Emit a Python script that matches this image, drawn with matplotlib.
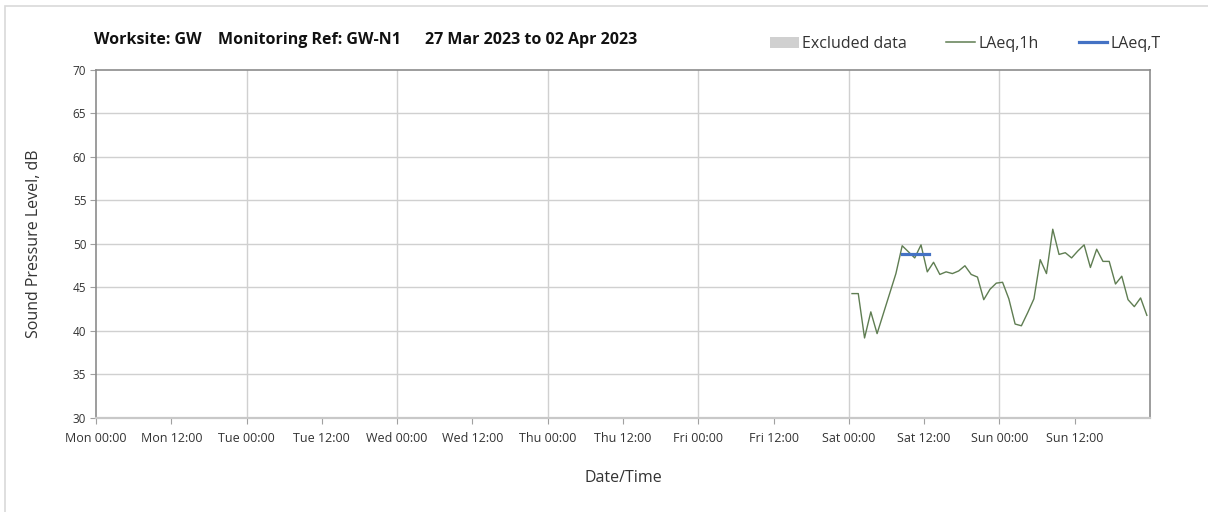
import numpy as np
import pandas as pd
import matplotlib
matplotlib.use("Agg")
import matplotlib.pyplot as plt
import matplotlib.dates as mdates
from matplotlib.patches import Patch, Rectangle
from matplotlib.lines import Line2D

plt.rcParams['font.family'] = ['Open Sans', 'DejaVu Sans']

# period shown on the chart
period_start = pd.Timestamp('2023-03-27 00:00')
period_end = pd.Timestamp('2023-04-03 00:00')

# hourly LAeq,1h values (Sat 01 Apr 00:00 .. Sun 02 Apr 23:00), plotted at mid-hour
laeq_1h_start = pd.Timestamp('2023-04-01 00:30')
laeq_1h = [44.3, 44.3, 39.2, 42.2, 39.7, 42.0, 44.3, 46.6,
           49.8, 49.1, 48.4, 49.9, 46.8, 47.9, 46.5, 46.8,
           46.6, 46.9, 47.5, 46.5, 46.2, 43.6, 44.8, 45.5,
           45.6, 43.7, 40.8, 40.6, 42.1, 43.7, 48.2, 46.6,
           51.7, 48.8, 49.0, 48.4, 49.2, 49.9, 47.3, 49.4,
           48.0, 48.0, 45.4, 46.3, 43.6, 42.8, 43.8, 41.8]

# LAeq,T over the assessment period
laeq_t_period = [pd.Timestamp('2023-04-01 08:30'), pd.Timestamp('2023-04-01 12:45')]
laeq_t = 48.9

y_ticks = [30, 35, 40, 45, 50, 55, 60, 65, 70]

times = pd.date_range(laeq_1h_start, periods=len(laeq_1h), freq='h')

fig = plt.figure(figsize=(12.08, 5.12), dpi=100)
ax = fig.add_axes([96 / 1208, 1 - 418 / 512, (1150 - 96) / 1208, (418 - 70) / 512])

# light frame around the picture
fig.patches.append(Rectangle((5 / 1208, -0.1), 1.2, 1 - 6 / 512 + 0.1, transform=fig.transFigure,
                             fill=False, edgecolor='#d9d9d9', linewidth=1.2))

ax.plot(times, laeq_1h, color='#5f7d52', linewidth=1.0, zorder=3)
ax.plot(laeq_t_period, [laeq_t, laeq_t], color='#4472c4', linewidth=2.3, zorder=4)

ax.set_xlim(period_start, period_end)
ax.set_ylim(30, 70)
ax.set_yticks(y_ticks)
ax.set_yticklabels([str(v) for v in y_ticks], fontsize=8.5, color='#333333')

days = pd.date_range(period_start, period_end, freq='D')
halfs = pd.date_range(period_start, period_end - pd.Timedelta(hours=12), freq='12h')
ax.set_xticks(halfs)
ax.set_xticklabels([t.strftime('%a %H:%M') for t in halfs], fontsize=9, color='#333333')

# grid: horizontal every 5 dB, vertical at each midnight
ax.grid(False)
for v in y_ticks[1:-1]:
    ax.axhline(v, color='#d0d0d0', linewidth=1.0, zorder=1)
for d in days[1:-1]:
    ax.axvline(d, color='#d0d0d0', linewidth=1.0, zorder=1)

for side in ['left', 'right', 'top']:
    ax.spines[side].set_color('#8c8c8c')
    ax.spines[side].set_linewidth(1.2)
ax.spines['bottom'].set_color('#c8c8c8')
ax.spines['bottom'].set_linewidth(1.6)
ax.tick_params(axis='x', direction='out', length=4, color='#a0a0a0', pad=6)
ax.tick_params(axis='y', direction='out', length=4, color='#a0a0a0', pad=3)

ax.set_ylabel('Sound Pressure Level, dB', fontsize=11.5, color='#333333', labelpad=22)
ax.set_xlabel('Date/Time', fontsize=11.5, color='#333333', labelpad=18)

# title pieces
fig.text(94 / 1208, 1 - 40 / 512, 'Worksite: GW', fontsize=11.5, fontweight='bold', va='center', color='#111111')
fig.text(218 / 1208, 1 - 40 / 512, 'Monitoring Ref: GW-N1', fontsize=11.5, fontweight='bold', va='center', color='#111111')
fig.text(425 / 1208, 1 - 40 / 512, '27 Mar 2023 to 02 Apr 2023', fontsize=11.5, fontweight='bold', va='center', color='#111111')

handles = [Patch(facecolor='#d0d0d0', edgecolor='none'),
           Line2D([], [], color='#5f7d52', linewidth=1.1),
           Line2D([], [], color='#4472c4', linewidth=2.3)]
fig.legend(handles, ['Excluded data', 'LAeq,1h', 'LAeq,T'], ncol=3, frameon=False,
           loc='center right', bbox_to_anchor=(1175 / 1208, 1 - 44 / 512),
           fontsize=11.5, handlelength=1.8, handletextpad=0.2, columnspacing=2.5,
           labelcolor='#333333')

fig.savefig('out.png', dpi=100)
